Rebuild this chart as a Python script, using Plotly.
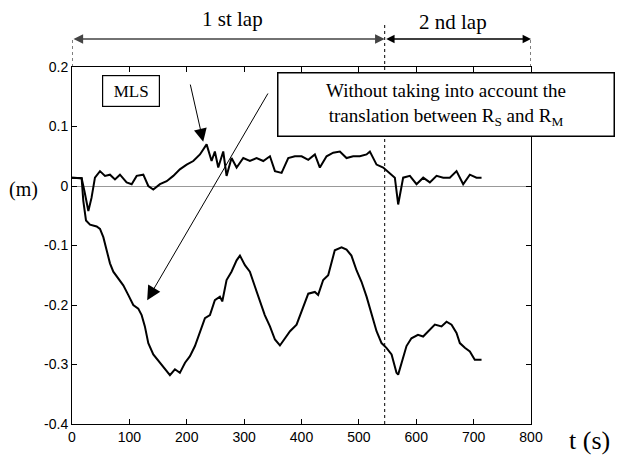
import plotly.graph_objects as go

# ---- data ----
t_mls = [0, 8, 16.8, 22, 28.5, 34, 40, 48.8, 57.5, 66.2, 74.9, 83.6, 95.2, 104, 112.7, 124.3, 133, 141.7,
         153.3, 165, 176.5, 188, 199.8, 211.4, 223, 234.6, 243.3, 249, 254.9, 263.6, 269.4, 278.1, 286.9,
         298.5, 310, 321.8, 333.4, 345, 353.7, 365.3, 376.9, 388.5, 400.2, 411.8, 423.3, 432, 443.7, 455.3,
         466.9, 478.5, 490, 501.7, 513.4, 519.2, 530.8, 542.4, 554, 562.7, 568.5, 577.2, 588.9, 600.5,
         612.1, 623.7, 635.4, 647, 658.5, 670.2, 681.8, 693.4, 705, 713.8]
v_mls = [0.014, 0.014, 0.013, -0.01, -0.042, -0.02, 0.014, 0.025, 0.017, 0.019, 0.011, 0.019, 0.006, 0.003,
         0.017, 0.019, 0.0, -0.006, 0.003, 0.008, 0.017, 0.028, 0.036, 0.042, 0.053, 0.07, 0.042, 0.058,
         0.031, 0.058, 0.017, 0.047, 0.031, 0.047, 0.042, 0.047, 0.042, 0.05, 0.025, 0.022, 0.047, 0.05,
         0.05, 0.044, 0.053, 0.031, 0.05, 0.056, 0.058, 0.047, 0.05, 0.05, 0.053, 0.058, 0.036, 0.031,
         0.022, 0.014, -0.031, 0.014, 0.017, 0.003, 0.014, 0.006, 0.017, 0.014, 0.014, 0.025, 0.003,
         0.019, 0.014, 0.014]

t_raw = [0, 8, 16.8, 19.7, 24.4, 31.4, 43, 48.8, 54.6, 60.4, 66.2, 72, 80.7, 89.4, 98, 106.8, 115.5, 121.4,
         127, 133, 141.7, 153.3, 162, 170.7, 179.4, 188, 197, 205.6, 214.3, 223, 231.7, 240.4, 249, 257.8,
         261.9, 269.4, 278, 286.9, 292.7, 301.4, 310, 318.8, 327.5, 336, 345, 353.7, 362.4, 371, 380,
         391.4, 400, 411.8, 423.3, 429, 437.8, 446.5, 458, 469.8, 478.5, 487, 496, 504.6, 513.4, 522,
         530.8, 539.5, 548, 557, 565.6, 568.5, 574, 583, 591.6, 603, 612, 620.8, 632.4, 644, 652.8,
         661.5, 670.2, 676, 684.7, 693.4, 702, 713.8]
v_raw = [0.014, 0.014, 0.013, -0.025, -0.058, -0.065, -0.068, -0.072, -0.086, -0.108, -0.13, -0.144,
         -0.156, -0.167, -0.183, -0.2, -0.206, -0.217, -0.236, -0.264, -0.283, -0.297, -0.306, -0.318,
         -0.308, -0.314, -0.297, -0.286, -0.269, -0.247, -0.222, -0.217, -0.192, -0.186, -0.194, -0.158,
         -0.144, -0.125, -0.117, -0.133, -0.144, -0.169, -0.192, -0.217, -0.236, -0.258, -0.268, -0.256,
         -0.244, -0.233, -0.211, -0.181, -0.178, -0.183, -0.158, -0.15, -0.108, -0.103, -0.107, -0.117,
         -0.142, -0.161, -0.186, -0.217, -0.244, -0.264, -0.272, -0.283, -0.314, -0.317, -0.297, -0.269,
         -0.256, -0.25, -0.253, -0.244, -0.233, -0.236, -0.228, -0.233, -0.247, -0.264, -0.272, -0.278,
         -0.292, -0.292]

x_ticks = [0, 100, 200, 300, 400, 500, 600, 700, 800]
y_ticks = [0.2, 0.1, 0, -0.1, -0.2, -0.3, -0.4]
y_tick_labels = ["0.2", "0.1", "0", "-0.1", "-0.2", "-0.3", "-0.4"]
lap_split = 545

W, H = 617, 458
ML, MR, MT, MB = 72, 86, 67, 34
PW, PH = W - ML - MR, H - MT - MB


def px(xp):
    return (xp - ML) / PW


def py(yp):
    return (H - MB - yp) / PH


SERIF = "Liberation Serif, Times New Roman, serif"
SANS = "Liberation Sans, Arial, Helvetica, sans-serif"

fig = go.Figure()
fig.add_trace(go.Scatter(x=t_raw, y=v_raw, mode="lines", line=dict(color="black", width=2), showlegend=False))
fig.add_trace(go.Scatter(x=t_mls, y=v_mls, mode="lines", line=dict(color="black", width=2), showlegend=False))


def label(xp, yp, text, size, **kw):
    d = dict(x=px(xp), y=py(yp), xref="paper", yref="paper", text=text, showarrow=False,
             xanchor="center", yanchor="middle", font=dict(family=SERIF, size=size, color="black"))
    d.update(kw)
    return d


ann = []
# lap arrows
arrow_y = py(39)
ann.append(dict(x=lap_split, y=arrow_y, xref="x", yref="paper", ax=0, ay=0, axref="x", ayref="pixel",
                text="", showarrow=True, arrowside="end+start", arrowhead=2, arrowsize=1.2,
                arrowwidth=1.6, arrowcolor="#444"))
ann.append(dict(x=800, y=arrow_y, xref="x", yref="paper", ax=lap_split, ay=0, axref="x", ayref="pixel",
                text="", showarrow=True, arrowside="end+start", arrowhead=2, arrowsize=1.2,
                arrowwidth=1.4, arrowcolor="black"))
ann.append(label(232, 19, "1 st lap", 21))
ann.append(label(453, 22, "2 nd lap", 21))
# MLS box + arrow
ann.append(label(131, 91, "MLS", 17, bordercolor="black", borderwidth=1.2, bgcolor="white",
                 width=54, height=28))
ann.append(dict(x=228.7, y=0.0745, xref="x", yref="y", ax=205.6, ay=0.173, axref="x", ayref="y",
                text="", showarrow=True, arrowhead=2, arrowsize=2.6, arrowwidth=1, arrowcolor="black"))
# long arrow
ann.append(dict(x=131, y=-0.192, xref="x", yref="y", ax=343, ay=0.158, axref="x", ayref="y",
                text="", showarrow=True, arrowhead=2, arrowsize=2.8, arrowwidth=1, arrowcolor="black"))
ann.append(label(445.5, 105,
                 "Without taking into account the<br>translation between R<sub>S</sub> and R<sub>M</sub>",
                 19, bordercolor="black", borderwidth=1.5, bgcolor="white", width=333, height=60))
# axis unit labels
ann.append(label(23, 189, "(m)", 20))
ann.append(label(589, 440, "t (s)", 26))

shapes = [
    dict(type="line", xref="x", yref="paper", x0=lap_split, x1=lap_split, y0=0, y1=py(24),
         line=dict(color="black", width=1, dash="dot")),
    dict(type="line", xref="x", yref="paper", x0=0, x1=0, y0=1, y1=arrow_y,
         line=dict(color="black", width=1, dash="dot")),
    dict(type="line", xref="x", yref="paper", x0=800, x1=800, y0=1, y1=arrow_y,
         line=dict(color="black", width=1, dash="dot")),
]

fig.update_layout(
    width=W, height=H,
    margin=dict(l=ML, r=MR, t=MT, b=MB),
    paper_bgcolor="white", plot_bgcolor="white",
    showlegend=False,
    annotations=ann, shapes=shapes,
    font=dict(family=SANS, size=14, color="black"),
)
fig.update_xaxes(range=[0, 800], tickvals=x_ticks, ticks="inside", ticklen=5, tickcolor="black",
                 showline=True, linecolor="black", linewidth=1, mirror="ticks", showgrid=False,
                 zeroline=False, tickfont=dict(family=SANS, size=14, color="black"))
fig.update_yaxes(range=[-0.4, 0.2], tickvals=y_ticks, ticktext=y_tick_labels, ticks="inside", ticklen=5,
                 tickcolor="black", showline=True, linecolor="black", linewidth=1, mirror="ticks",
                 showgrid=False, zeroline=True, zerolinecolor="#999", zerolinewidth=1,
                 tickfont=dict(family=SANS, size=14, color="black"))

fig.write_html("out.html")
